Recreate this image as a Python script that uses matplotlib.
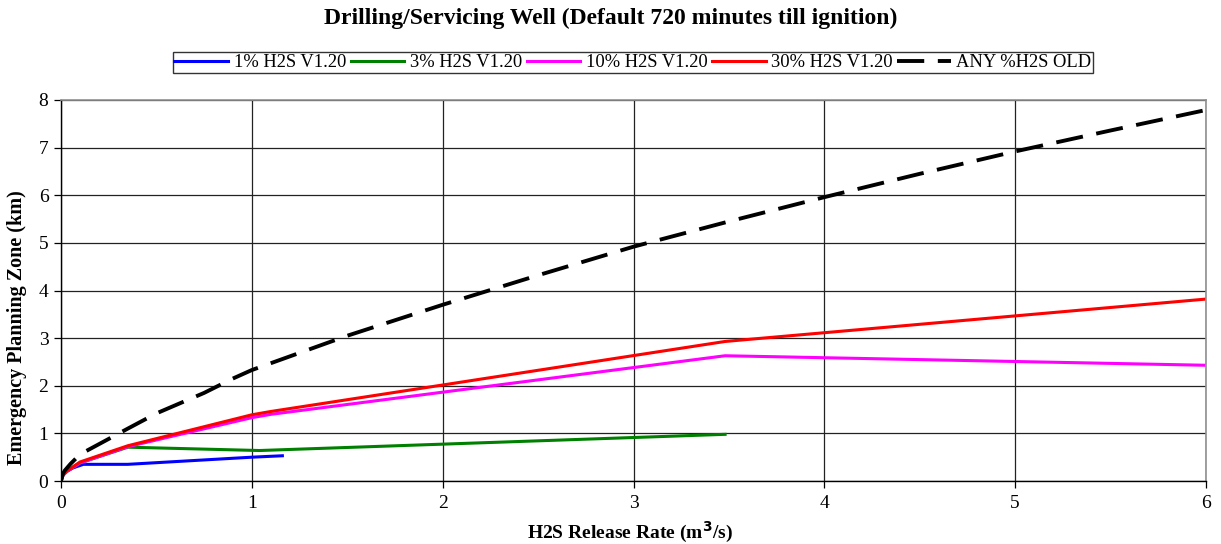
import matplotlib
matplotlib.use("Agg")
import matplotlib.pyplot as plt

# Data
x_1pct = [0.0, 0.01, 0.03, 0.06, 0.117, 0.35, 1.0, 1.16]
y_1pct = [0.0, 0.12, 0.2, 0.27, 0.35, 0.35, 0.5, 0.53]

x_3pct = [0.0, 0.01, 0.03, 0.1, 0.35, 1.04, 3.48]
y_3pct = [0.0, 0.12, 0.2, 0.38, 0.71, 0.64, 0.98]

x_10pct = [0.0, 0.01, 0.03, 0.1, 0.35, 1.0, 1.1, 3.48, 6.0]
y_10pct = [0.0, 0.12, 0.2, 0.38, 0.72, 1.33, 1.4, 2.63, 2.43]

x_30pct = [0.0, 0.01, 0.03, 0.1, 0.35, 1.0, 1.1, 3.48, 6.0]
y_30pct = [0.0, 0.12, 0.21, 0.4, 0.74, 1.39, 1.46, 2.93, 3.82]

x_old = [0.0, 0.01, 0.02, 0.05, 0.1, 0.35, 0.5, 0.75, 0.9, 1.0, 1.5, 2.0, 2.5, 3.0, 3.5, 4.0, 4.5, 5.0, 5.5, 6.0]
y_old = [0.0, 0.15, 0.22, 0.36, 0.56, 1.1, 1.42, 1.85, 2.15, 2.33, 3.05, 3.7, 4.32, 4.92, 5.45, 5.96, 6.45, 6.92, 7.36, 7.79]

labels = ["1% H2S V1.20", "3% H2S V1.20", "10% H2S V1.20", "30% H2S V1.20", "ANY %H2S OLD"]
colors = ["#0000FF", "#008000", "#FF00FF", "#FF0000", "#000000"]

plt.rcParams['font.family'] = ['Liberation Serif', 'DejaVu Serif']

fig = plt.figure(figsize=(12.21, 5.44), dpi=100)
ax = fig.add_axes([61/1221, 1-481/544, (1206-61)/1221, (481-100)/544])

series = [(x_1pct, y_1pct), (x_3pct, y_3pct), (x_10pct, y_10pct), (x_30pct, y_30pct)]
handles = []
for (xs, ys), lab, c in zip(series, labels[:4], colors[:4]):
    h, = ax.plot(xs, ys, color=c, lw=2.2, label=lab, solid_joinstyle='round')
    handles.append(h)
h, = ax.plot(x_old, y_old, color=colors[4], lw=2.8, dashes=(7, 3.5), label=labels[4])
handles.append(h)

ax.set_xlim(0, 6)
ax.set_ylim(0, 8)
ax.set_xticks(range(0, 7))
ax.set_yticks(range(0, 9))
ax.grid(True, color='#222222', lw=0.9)
ax.set_axisbelow(True)
for s in ['top', 'right']:
    ax.spines[s].set_color('#909090')
    ax.spines[s].set_linewidth(1.2)
for s in ['left', 'bottom']:
    ax.spines[s].set_color('black')
    ax.spines[s].set_linewidth(1.0)
ax.tick_params(axis='both', direction='out', length=5, width=0.9, labelsize=14, colors='black')
ax.tick_params(axis='x', pad=5)
ax.tick_params(axis='y', pad=4)

ax.set_xlabel("H2S Release Rate (m$^\\mathbf{3}$/s)", fontsize=14, fontweight='bold')
ax.set_ylabel("Emergency Planning Zone (km)", fontsize=14.5, fontweight='bold')
ax.xaxis.set_label_coords((630 - 61) / 1145, -(532 - 481) / 381)
ax.yaxis.set_label_coords(-(61 - 17) / 1145, (481 - 328) / 381)
ax.xaxis.label.set_va('center')
ax.yaxis.label.set_va('center')

fig.text(0.5, 1-18/544, "Drilling/Servicing Well (Default 720 minutes till ignition)",
         ha='center', va='center', fontsize=17, fontweight='bold')

leg = fig.legend(handles=handles, labels=labels, loc='center', bbox_to_anchor=(633/1221, 1-62.5/544),
                 ncol=5, fontsize=13.3, frameon=True, fancybox=False, edgecolor='black',
                 handlelength=2.9, handletextpad=0.3, columnspacing=0.25, borderpad=0.1,
                 borderaxespad=0)
leg.get_frame().set_linewidth(1.0)

fig.savefig("out.png", dpi=100)
